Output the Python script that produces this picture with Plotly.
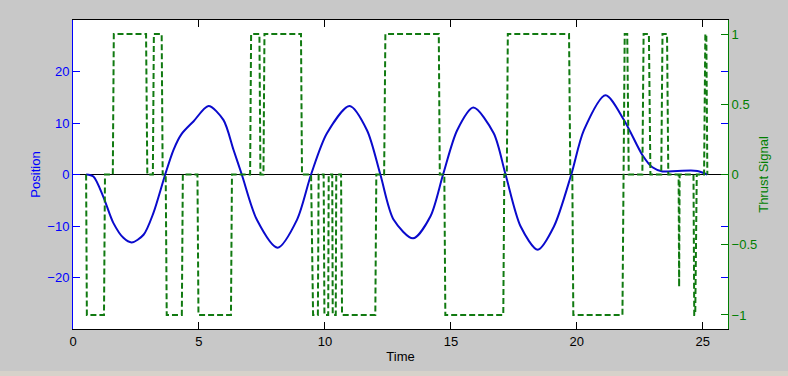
import plotly.graph_objects as go

# Position (blue)
pos_t = [0.52, 0.81, 1.2, 1.6, 2.0, 2.33, 2.8, 3.19, 3.66, 3.99, 4.3, 4.78, 5.38, 5.97, 6.37, 6.70,
         7.3, 8.12, 8.89, 9.45, 10.08, 10.98, 11.67, 12.20, 12.73, 13.5, 14.19, 14.69, 15.25, 15.89,
         16.7, 17.17, 17.77, 18.45, 19.09, 19.78, 20.28, 21.14, 21.87, 22.6, 23.0, 23.4,
         24.0, 24.79, 25.18]
pos_v = [0, -0.4, -4.3, -9.4, -12.3, -13.2, -11.7, -7.5, 0, 4.8, 7.8, 10.3, 13.3, 10.6, 4.8, 0,
         -8.8, -14.2, -8.8, 0, 8.0, 13.3, 8.6, 0, -8.8, -12.4, -8.1, 0, 8.6, 13.0,
         8.0, 0, -10.1, -14.6, -10.1, 0, 8.6, 15.4, 10.6, 3.8, 1.4, 0.6,
         0.7, 0.7, 0]

# Thrust signal (green dashed)
thr_t = [0.52, 0.55, 1.23, 1.27, 1.58, 1.62, 2.90, 2.95, 3.17, 3.21, 3.52, 3.56, 3.68, 3.72,
         4.32, 4.36, 4.94, 4.98, 6.27, 6.31, 7.03, 7.07, 7.40, 7.44, 7.56, 7.60, 9.05, 9.09,
         9.45, 9.53, 9.72, 9.75, 9.95, 9.98, 10.13, 10.15, 10.29, 10.31, 10.43, 10.45, 10.64, 10.68,
         12.00, 12.04, 12.35, 12.40, 14.52, 14.56, 14.74, 14.78, 17.08, 17.12, 17.22, 17.26,
         19.69, 19.74, 19.82, 19.86, 21.81, 21.85, 21.90, 22.00, 22.06, 22.60, 22.65, 22.86, 22.92,
         23.35, 23.40, 23.58, 23.63, 24.04, 24.06, 24.08, 24.63, 24.66, 24.70, 24.76, 25.05, 25.10,
         25.14, 25.18]
thr_u = [0, -1, -1, 0, 0, 1, 1, 0, 0, 1, 1, 0, 0, -1,
         -1, 0, 0, -1, -1, 0, 0, 1, 1, 0, 0, 1, 1, 0,
         0, -1, -1, 0, 0, -1, -1, 0, 0, -1, -1, 0, 0, -1,
         -1, 0, 0, 1, 1, 0, 0, -1, -1, 0, 0, 1,
         1, 0, 0, -1, -1, 0, 1, 1, 0, 0, 1, 1, 0,
         0, 1, 1, 0, 0, -0.8, 0, 0, -1, -1, 0, 0, 1,
         1, 0]

x_ticks = [0, 5, 10, 15, 20, 25]
pos_ticks = [-20, -10, 0, 10, 20]
thr_ticks = [-1, -0.5, 0, 0.5, 1]

BLUE_AX = "#0000ff"
BLUE_LN = "#0a0acc"
GREEN_AX = "#007f00"
GREEN_LN = "#117a11"
BG = "#c8c8c8"
FONT = "Liberation Sans, Arial, sans-serif"

fig = go.Figure()
fig.add_trace(go.Scatter(x=pos_t, y=pos_v, mode="lines",
                         line=dict(color=BLUE_LN, width=2, shape="spline", smoothing=0.8),
                         yaxis="y", showlegend=False, hoverinfo="skip"))
fig.add_trace(go.Scatter(x=thr_t, y=thr_u, mode="lines", line=dict(color=GREEN_LN, width=2, dash="6px,3px"),
                         yaxis="y2", showlegend=False, hoverinfo="skip"))

fig.update_layout(
    width=788, height=376,
    margin=dict(l=73, r=60, t=20, b=47, autoexpand=False),
    paper_bgcolor=BG, plot_bgcolor="#ffffff",
    font=dict(family=FONT, size=13, color="#000000"),
    xaxis=dict(range=[0, 26], tickvals=x_ticks, ticks="inside", ticklen=7, tickcolor="#000000",
               showline=True, linecolor="#000000", linewidth=1, mirror="ticks", showgrid=False, zeroline=False,
               title=dict(text="Time", font=dict(size=13), standoff=4), tickfont=dict(size=13)),
    yaxis=dict(range=[-30, 30], tickvals=pos_ticks, ticks="inside", ticklen=7, tickcolor=BLUE_AX,
               showline=True, linecolor=BLUE_AX, linewidth=1, mirror="ticks", showgrid=False,
               zeroline=True, zerolinecolor="#000000", zerolinewidth=1,
               tickfont=dict(color=BLUE_AX, size=13),
               title=dict(text="Position", font=dict(color=BLUE_AX, size=13), standoff=3)),
    yaxis2=dict(range=[-1.1, 1.1], tickvals=thr_ticks, ticks="inside", ticklen=7, tickcolor=GREEN_AX,
                overlaying="y", side="right", showline=True, linecolor=GREEN_AX, linewidth=1,
                showgrid=False, zeroline=False, tickfont=dict(color=GREEN_AX, size=13),
                title=dict(text="Thrust Signal", font=dict(color=GREEN_AX, size=13), standoff=2)),
    shapes=[dict(type="rect", xref="paper", yref="paper", x0=-0.2, x1=1.2, y0=-0.17, y1=-0.136,
                 fillcolor="#d6d2ca", line=dict(width=0), layer="above")],
)

fig.write_html("out.html", config={"displayModeBar": False},
               post_script="document.body.style.margin='0';document.body.style.background='%s';"
                           "window.dispatchEvent(new Event('resize'));" % BG)
